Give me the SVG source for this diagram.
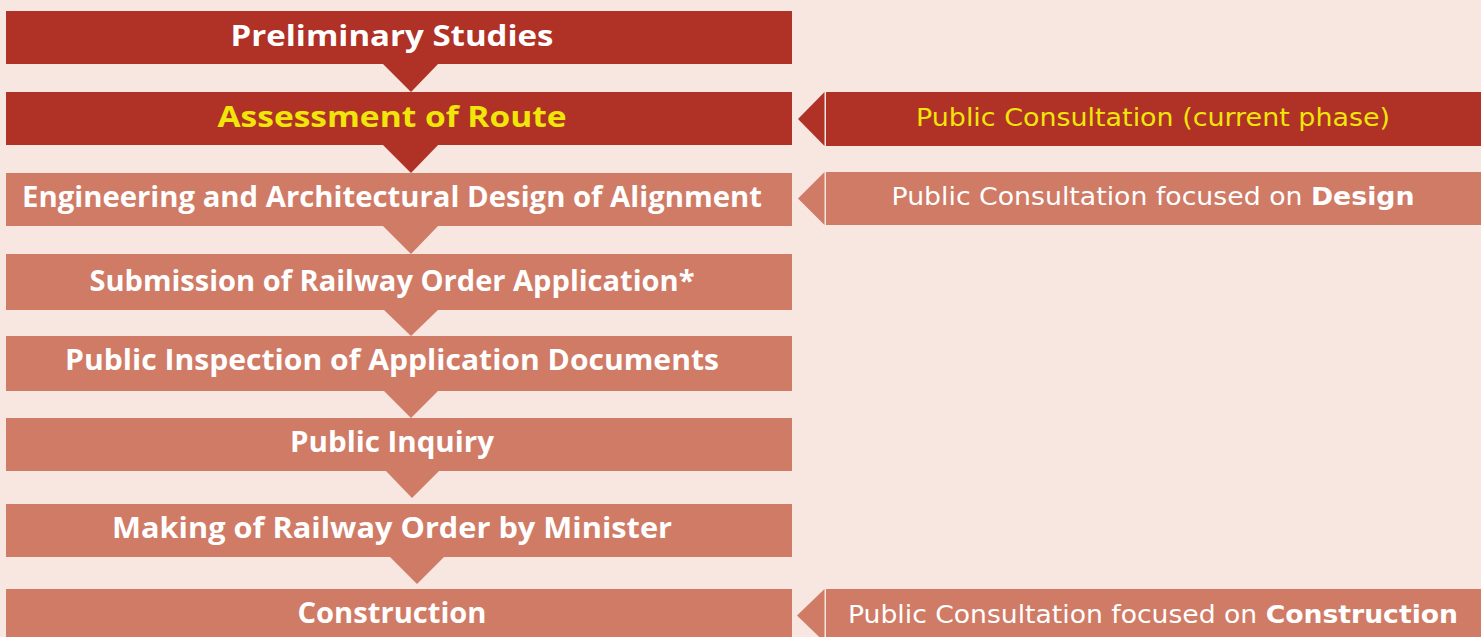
<svg xmlns="http://www.w3.org/2000/svg" width="1481" height="637" viewBox="0 0 1481 637">
<defs>
<style>
.dark{fill:#B03126}
.light{fill:#D07B66}
.lt{font-family:"Open Sans","Noto Sans","DejaVu Sans",sans-serif;font-weight:bold;font-size:29px;fill:#FFFFFF;text-anchor:middle}
.rt{font-family:"DejaVu Sans","Liberation Sans",sans-serif;font-size:24px;fill:#FFFFFF;text-anchor:middle}
.yel{fill:#F0E60A}
.b{font-weight:bold}
</style>
</defs>
<rect x="0" y="0" width="1481" height="637" fill="#F8E7E1"/>
<g id="connectors">
<polygon class="dark" points="382,63 439,63 411,92"/>
<polygon class="dark" points="382,144 439,144 411,173"/>
<polygon class="light" points="382,225 439,225 411,254"/>
<polygon class="light" points="383,309 439,309 411,336"/>
<polygon class="light" points="383,390 439,390 411,418"/>
<polygon class="light" points="385,470 440,470 412,498"/>
<polygon class="light" points="389,556 445,556 417,584"/>
<polygon class="dark" points="798,119 824.5,92 824.5,146"/>
<polygon class="light" points="798,198.5 824.5,172 824.5,225"/>
<polygon class="light" points="797,615.5 824.5,589 824.5,642"/>
</g>
<g id="preliminary-studies">
<rect class="dark" x="6" y="11" width="786" height="53"/>
<text class="lt" x="392" y="46" textLength="323" lengthAdjust="spacingAndGlyphs">Preliminary Studies</text>
</g>
<g id="assessment-of-route">
<rect class="dark" x="6" y="92" width="786" height="53"/>
<text class="lt yel" x="392" y="127" textLength="349" lengthAdjust="spacingAndGlyphs">Assessment of Route</text>
</g>
<g id="engineering-design">
<rect class="light" x="6" y="173" width="786" height="53"/>
<text class="lt" x="392" y="207" textLength="740" lengthAdjust="spacingAndGlyphs">Engineering and Architectural Design of Alignment</text>
</g>
<g id="submission">
<rect class="light" x="6" y="254" width="786" height="56"/>
<text class="lt" x="392" y="291" textLength="605" lengthAdjust="spacingAndGlyphs">Submission of Railway Order Application*</text>
</g>
<g id="public-inspection">
<rect class="light" x="6" y="336" width="786" height="55"/>
<text class="lt" x="392" y="370" textLength="654" lengthAdjust="spacingAndGlyphs">Public Inspection of Application Documents</text>
</g>
<g id="public-inquiry">
<rect class="light" x="6" y="418" width="786" height="53"/>
<text class="lt" x="392" y="452" textLength="204" lengthAdjust="spacingAndGlyphs">Public Inquiry</text>
</g>
<g id="making-order">
<rect class="light" x="6" y="504" width="786" height="53"/>
<text class="lt" x="392" y="538" textLength="560" lengthAdjust="spacingAndGlyphs">Making of Railway Order by Minister</text>
</g>
<g id="construction">
<rect class="light" x="6" y="589" width="786" height="52"/>
<text class="lt" x="392" y="623" textLength="189" lengthAdjust="spacingAndGlyphs">Construction</text>
</g>
<g id="consultation-current">
<rect class="dark" x="826" y="92" width="655" height="54"/>
<text class="rt yel" x="1153" y="126" textLength="474" lengthAdjust="spacingAndGlyphs">Public Consultation (current phase)</text>
</g>
<g id="consultation-design">
<rect class="light" x="826" y="172" width="655" height="53"/>
<text class="rt" x="1153" y="205" textLength="523" lengthAdjust="spacingAndGlyphs">Public Consultation focused on <tspan class="b">Design</tspan></text>
</g>
<g id="consultation-construction">
<rect class="light" x="826" y="589" width="655" height="52"/>
<text class="rt" x="1153" y="623" textLength="610" lengthAdjust="spacingAndGlyphs">Public Consultation focused on <tspan class="b">Construction</tspan></text>
</g>
</svg>
